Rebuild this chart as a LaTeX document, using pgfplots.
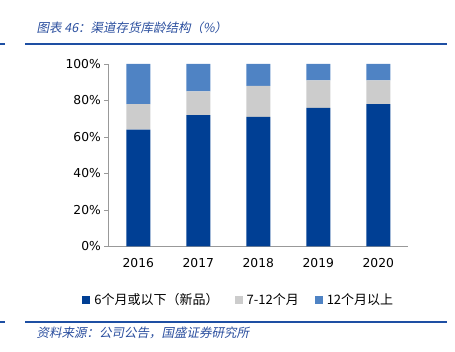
\documentclass[border=0pt]{standalone}
\usepackage{pgfplots}
\pgfplotsset{compat=1.18}
\usepackage{fontspec}
\setmainfont{DejaVu Sans}
\newfontfamily\cjk{Noto Sans CJK SC}
\newfontfamily\cjkit[FakeSlant=0.2]{Noto Sans CJK SC}
\definecolor{dblue}{HTML}{003F94}
\definecolor{lgray}{HTML}{CCCCCC}
\definecolor{lblue}{HTML}{4F83C4}
\definecolor{tblue}{HTML}{2A4E9E}
\definecolor{lineblue}{HTML}{1E4FA3}
\begin{document}
\begin{tikzpicture}[x=1pt,y=1pt]
\path[use as bounding box] (0,0) rectangle (455,352);
% title and rules
\node[anchor=west,text=tblue,font=\cjkit\fontsize{12.5}{14}\selectfont] at (33,324) {图表 46：渠道存货库龄结构（\%）};
\draw[lineblue,line width=1.3pt] (25,308) -- (447,308);
\draw[lineblue,line width=1.3pt] (0,308) -- (5,308);
\draw[lineblue,line width=1.3pt] (25,30) -- (447,30);
\draw[lineblue,line width=1.3pt] (0,30) -- (5,30);
\node[anchor=west,text=tblue,font=\cjkit\fontsize{12.5}{14}\selectfont] at (33,19) {资料来源：公司公告，国盛证券研究所};
\begin{axis}[
  at={(108.3pt,105.5pt)}, anchor=south west,
  scale only axis, width=300pt, height=182.5pt,
  ybar stacked, bar width=24pt,
  xmin=-0.5, xmax=4.5, ymin=0, ymax=100,
  xtick={0,1,2,3,4}, xticklabels={2016,2017,2018,2019,2020},
  extra x ticks={-0.5,0.5,1.5,2.5,3.5,4.5}, extra x tick labels={},
  extra x tick style={tick style={draw=gray!80}, tick align=inside},
  major tick length=4pt,
  ytick={0,20,40,60,80,100},
  yticklabel={\pgfmathprintnumber{\tick}\%},
  axis x line*=bottom, axis y line*=left,
  x axis line style={draw=gray!80, -}, y axis line style={draw=gray!80, -},
  major x tick style={draw=none},
  ytick style={draw=gray!80}, tick align=outside,
  tick label style={font=\fontsize{12.3}{14}\selectfont},
  /pgf/number format/assume math mode=true,
  yticklabel style={xshift=0pt},
  xticklabel style={yshift=-4pt},
  legend style={at={(0.435,-0.235)}, anchor=north, draw=none, legend columns=3,
    font=\cjk\fontsize{13}{15}\selectfont, column sep=2pt,
    /tikz/every even column/.append style={column sep=14pt}},
  legend image code/.code={\fill[#1] (0pt,-4pt) rectangle (8pt,4pt);},
]
\addplot[fill=dblue, draw=none] coordinates {(0,64) (1,72) (2,71) (3,76) (4,78)};
\addplot[fill=lgray, draw=none] coordinates {(0,14) (1,13) (2,17) (3,15) (4,13)};
\addplot[fill=lblue, draw=none] coordinates {(0,22) (1,15) (2,12) (3,9) (4,9)};
\legend{6个月或以下（新品）, 7-12个月, 12个月以上}
\end{axis}
\end{tikzpicture}
\end{document}
